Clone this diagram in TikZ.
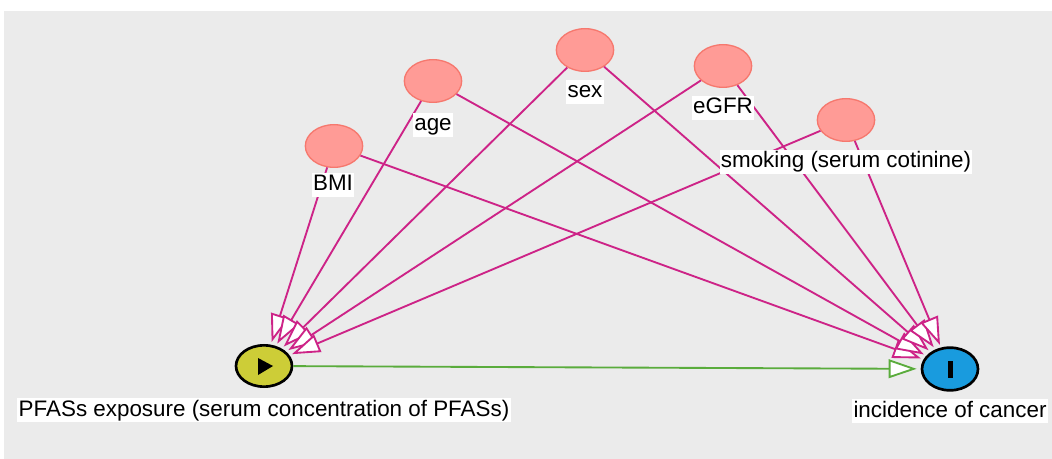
\documentclass[tikz,border=0pt]{standalone}
\usepackage{fontspec}
\setmainfont{Liberation Sans}
\usetikzlibrary{arrows.meta,shapes.geometric}
\definecolor{bggray}{RGB}{235,235,235}
\definecolor{adjfill}{RGB}{255,155,150}
\definecolor{adjdraw}{RGB}{246,120,110}
\definecolor{expfill}{RGB}{205,205,55}
\definecolor{outfill}{RGB}{25,155,222}
\definecolor{biaspath}{RGB}{205,35,135}
\definecolor{causalpath}{RGB}{90,172,60}

\begin{document}
\begin{tikzpicture}[x=0.75pt,y=-0.75pt,
  adj/.style={ellipse,draw=adjdraw,fill=adjfill,line width=1pt,minimum width=43pt,minimum height=32pt,inner sep=0pt},
  expo/.style={ellipse,draw=black,fill=expfill,line width=2pt,minimum width=42pt,minimum height=31pt,inner sep=0pt},
  outc/.style={ellipse,draw=black,fill=outfill,line width=2pt,minimum width=42pt,minimum height=32pt,inner sep=0pt},
  lbl/.style={fill=white,inner sep=1pt,text height=12.5pt,text depth=3.5pt,font=\fontsize{16.8}{19}\selectfont},
  bias/.style={draw=biaspath,line width=1.4pt,shorten >=2pt,-{Triangle[length=21pt,width=14pt,fill=white]}},
  causal/.style={draw=causalpath,line width=1.4pt,shorten >=3pt,-{Triangle[length=21pt,width=14pt,fill=white]}}]
  \useasboundingbox (0,0) rectangle (1052,459);
  \fill[bggray] (4,11) rectangle (1052,459);
  \node[adj] (bmi) at (334,146) {};
  \node[adj] (age) at (433,81) {};
  \node[adj] (sex) at (585,50) {};
  \node[adj] (egfr) at (723,66) {};
  \node[adj] (smok) at (846,120) {};
  \node[expo] (pfas) at (264,366) {};
  \node[outc] (canc) at (950,369) {};
  \fill (258,358) -- (258,375) -- (273,366) -- cycle;
  \fill (947.5,361) rectangle (952.5,378);
  \foreach \v in {bmi,age,sex,egfr,smok}{
    \draw[bias] (\v) -- (pfas);
    \draw[bias] (\v) -- (canc);
  }
  \draw[causal] (pfas) -- (canc);
  \node[lbl] (bmil) at (333,185) {BMI};
  \node[lbl] (agel) at (433,125) {age};
  \node[lbl] (sexl) at (585,92) {sex};
  \node[lbl] (egfrl) at (723,108) {eGFR};
  \node[lbl] (smokl) at (846,162) {smoking (serum cotinine)};
  \node[lbl] (pfasl) at (264,410) {PFASs exposure (serum concentration of PFASs)};
  \node[lbl] (cancl) at (950,411) {incidence of cancer};
\end{tikzpicture}
\end{document}
